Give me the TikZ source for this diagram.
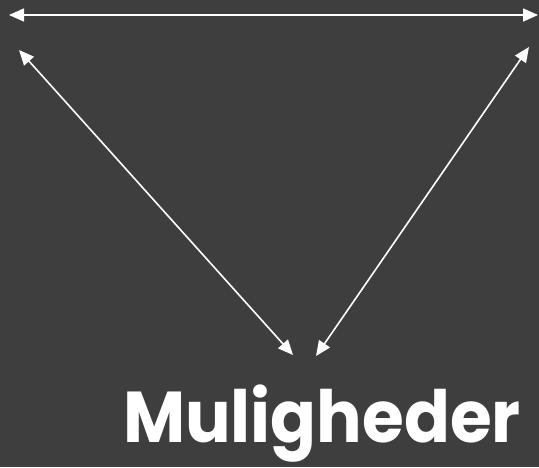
\documentclass[tikz,border=0pt]{standalone}
\usepackage{fontspec}
\setmainfont{Poppins}
\usepackage{xcolor}
\usetikzlibrary{arrows.meta}
\definecolor{SlateBg}{HTML}{3E3E3E}

\begin{document}
\begin{tikzpicture}[
    x=1pt, y=-1pt,
    link/.style={{Triangle[length=15pt,width=13pt]}-{Triangle[length=15pt,width=13pt]}, line width=1.6pt, draw=white},
    title/.style={text=white, font=\fontsize{72}{72}\selectfont\bfseries, inner sep=0pt}
]

\fill[SlateBg] (0,0) rectangle (539,467);
\useasboundingbox (0,0) rectangle (539,467);

% corners of the triangle
\coordinate (topL) at (9,15);
\coordinate (topR) at (538,15);
\coordinate (sideL) at (19,50);
\coordinate (sideR) at (529,47);
\coordinate (botL) at (293,355);
\coordinate (botR) at (316,356);

\node[title, anchor=base east] (word) at (521,442) {\scalebox{0.94}[1]{Muligheder}};

\draw[link] (topL) -- (topR);
\draw[link] (sideL) -- (botL);
\draw[link] (sideR) -- (botR);

\end{tikzpicture}
\end{document}
